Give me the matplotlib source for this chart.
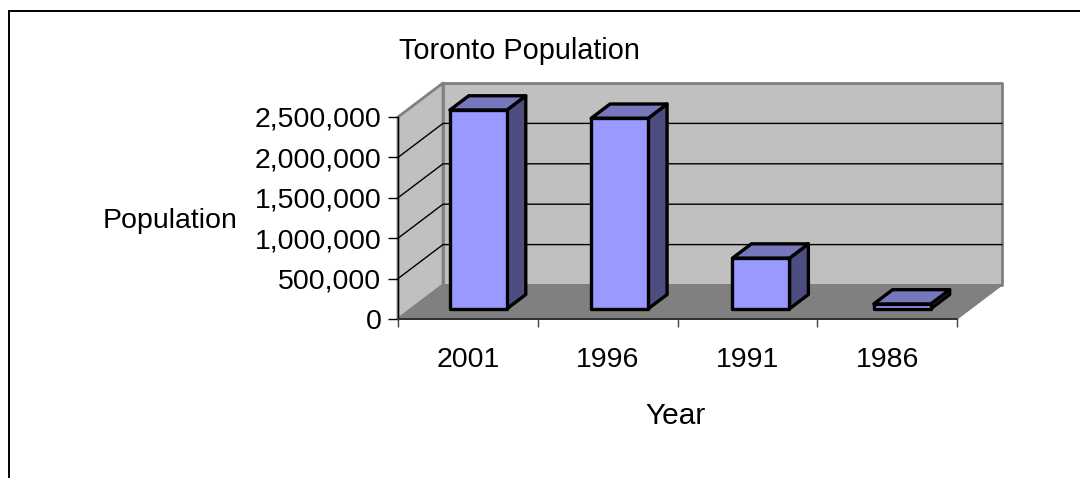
import matplotlib
matplotlib.use("Agg")
import matplotlib.pyplot as plt
from matplotlib.patches import Polygon

plt.rcParams["font.family"] = ["Liberation Sans", "DejaVu Sans"]

years = ["2001", "1996", "1991", "1986"]
population = [2460000, 2358000, 627000, 60000]
y_ticks = [0, 500000, 1000000, 1500000, 2000000, 2500000]

W, H = 1080, 478
fs = 20.5
fig = plt.figure(figsize=(W / 100, H / 100), dpi=100, facecolor="white")

# chart frame
frame = fig.add_axes([0, 0, 1, 1], zorder=0)
frame.set_xlim(0, W)
frame.set_ylim(H, 0)
frame.axis("off")
frame.plot([8.5, 8.5, W], [H, 10.5, 10.5], color="black", lw=1.4, solid_joinstyle="miter")

# front plane of the 3d box is the real axes
ax = fig.add_axes([398 / W, 1 - 319 / H, 559 / W, 202 / H], zorder=1)
ax.set_xlim(0, len(years))
ax.set_ylim(0, 2500000)
ax.patch.set_visible(False)
for s in ax.spines.values():
    s.set_visible(False)

# depth of the box in data units
dx = 45 / 559 * len(years)
dy = 34 / 202 * 2500000
ymax = 2500000
xmax = len(years)


def poly(pts, fc, ec, lw, z):
    ax.add_patch(Polygon(pts, closed=True, facecolor=fc, edgecolor=ec, linewidth=lw,
                         zorder=z, clip_on=False, joinstyle="round"))


wall = "#c0c0c0"
edge = "#808080"
poly([(dx, dy), (xmax + dx, dy), (xmax + dx, ymax + dy), (dx, ymax + dy)], wall, edge, 2.0, 1)
poly([(0, 0), (dx, dy), (dx, ymax + dy), (0, ymax)], wall, edge, 2.0, 1)
poly([(0, 0), (xmax, 0), (xmax + dx, dy), (dx, dy)], "#808080", "#808080", 1.0, 1)

# gridlines on both walls
for t in y_ticks[1:-1]:
    ax.plot([0, dx, xmax + dx], [t, t + dy, t + dy], color="black", lw=1.0, zorder=2, clip_on=False)

# bars
bar_w = 57 / 559 * len(years)
step = 141.3 / 139.75
d0, d1 = 0.30, 0.72
for i, v in enumerate(population):
    x0 = 0.5 - 3 / 139.75 + i * step - bar_w / 2
    x1 = x0 + bar_w
    fx, fy = d0 * dx, d0 * dy
    bx, by = d1 * dx, d1 * dy
    lw = 2.4
    poly([(x1 + fx, fy), (x1 + bx, by), (x1 + bx, v + by), (x1 + fx, v + fy)], "#4d4d80", "black", lw, 3)
    poly([(x0 + fx, v + fy), (x1 + fx, v + fy), (x1 + bx, v + by), (x0 + bx, v + by)], "#7777bd", "black", lw, 3)
    poly([(x0 + fx, fy), (x1 + fx, fy), (x1 + fx, v + fy), (x0 + fx, v + fy)], "#9999ff", "black", lw, 4)

# axis lines and ticks
ax.plot([0, 0], [0, ymax], color="black", lw=1.0, zorder=5, clip_on=False)
ax.plot([0, xmax], [0, 0], color="#303030", lw=1.4, zorder=5, clip_on=False)
ax.set_yticks(y_ticks)
ax.set_yticklabels([f"{t:,}" for t in y_ticks], fontsize=fs)
ax.set_xticks(range(len(years) + 1))
ax.set_xticklabels([""] * (len(years) + 1))
ax.tick_params(axis="y", length=7, width=1.0, pad=5)
ax.tick_params(axis="x", length=6, width=1.0, color="#404040")
for i, y in enumerate(years):
    ax.text(i + 0.5, -510000, y, ha="center", va="center", fontsize=fs, clip_on=False)

frame.text(519, 51, "Toronto Population", ha="center", va="center", fontsize=fs + 0.3)
frame.text(170, 221, "Population", ha="center", va="center", fontsize=fs)
frame.text(676, 416, "Year", ha="center", va="center", fontsize=fs + 1)

fig.savefig("out.png", dpi=100)
